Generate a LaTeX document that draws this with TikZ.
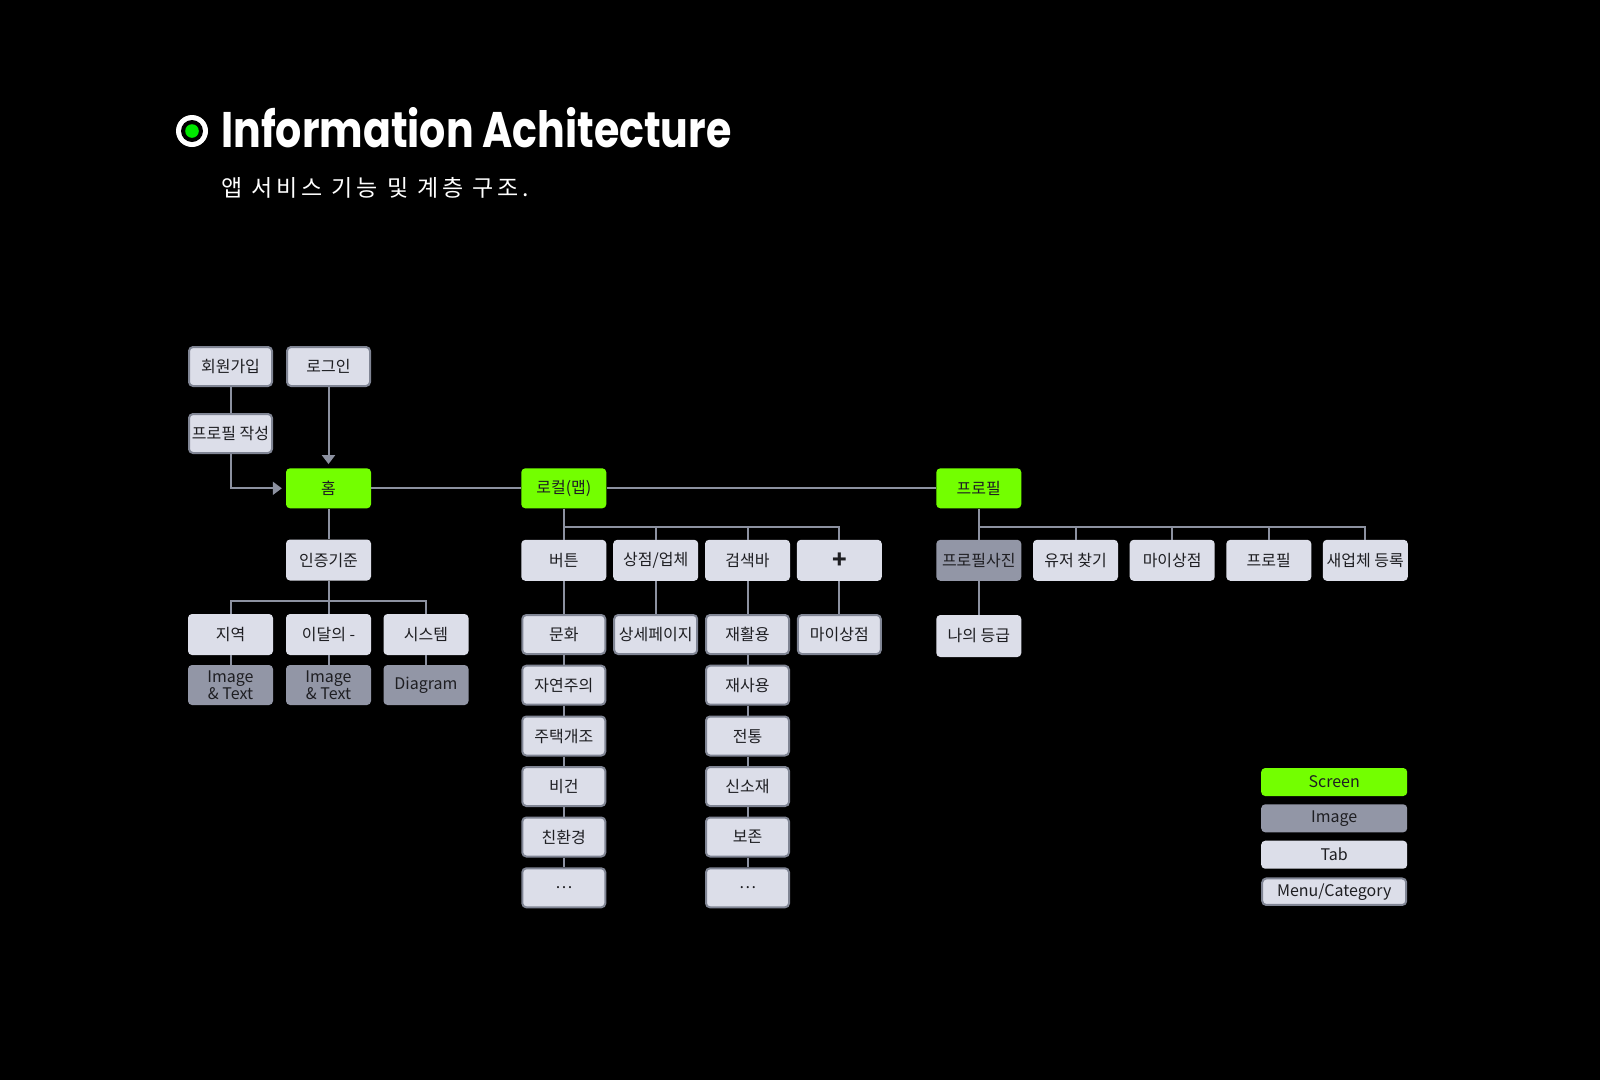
\documentclass[tikz,border=0pt]{standalone}
\usepackage{fontspec}
\usetikzlibrary{arrows.meta}
\newfontfamily\kr{Noto Sans CJK KR}
\newfontfamily\krsub{Noto Sans CJK KR}[LetterSpace=17]
\newfontfamily\titlefont{Poppins}
\definecolor{scrgreen}{RGB}{115,255,0}
\definecolor{tabfill}{RGB}{220,222,233}
\definecolor{imgfill}{RGB}{146,150,166}
\definecolor{bordercol}{RGB}{128,133,148}
\definecolor{linecol}{RGB}{140,145,160}
\definecolor{txt}{RGB}{30,30,34}
\definecolor{dotgreen}{RGB}{0,232,0}
\tikzset{
  box/.style={rounded corners=4pt, minimum width=85pt, minimum height=41pt, inner sep=0pt,
    font=\kr\fontsize{16}{17}\selectfont, text=txt, align=center},
  tabbox/.style={box, fill=tabfill},
  menubox/.style={box, fill=tabfill, draw=bordercol, line width=2pt, minimum width=83pt, minimum height=39pt},
  imgbox/.style={box, fill=imgfill},
  scrbox/.style={box, fill=scrgreen, minimum height=40pt},
  conn/.style={draw=linecol, line width=2pt},
  arr/.style={conn, -{Triangle[width=13pt,length=9pt]}, shorten >=4pt},
  legbox/.style={box, minimum width=146pt, minimum height=28pt}
}
\begin{document}
\begin{tikzpicture}[x=1pt,y=-1pt]
\fill[black] (0,0) rectangle (1600,1080);
\useasboundingbox (0,0) rectangle (1600,1080);

% title
\fill[white] (192,131) circle (16);
\fill[black] (192,131) circle (11);
\fill[dotgreen] (192,131) circle (6.8);
\node[anchor=base west, inner sep=0pt, text=white] (title) at (221,147)
  {\scalebox{0.822}[1]{\titlefont\bfseries\fontsize{50}{56}\selectfont Information Achitecture}};
\node[anchor=west, inner sep=0pt, text=white, font=\krsub\fontsize{23}{26}\selectfont] (sub) at (221,188)
  {앱 서비스 기능 및 계층 구조.};

% left tree
\node[menubox] (join) at (230.5,366.5) {회원가입};
\node[menubox] (login) at (328.5,366.5) {로그인};
\node[menubox] (pwrite) at (230.5,433.5) {프로필 작성};
\node[scrbox] (home) at (328.5,488.3) {홈};
\node[tabbox] (cert) at (328.5,560) {인증기준};
\node[tabbox] (region) at (230.5,634.5) {지역};
\node[tabbox] (month) at (328.5,634.5) {이달의 -};
\node[tabbox] (system) at (426,634.5) {시스템};
\node[imgbox, minimum height=40pt] (img1) at (230.5,685) {Image\\[-0.5pt]\& Text};
\node[imgbox, minimum height=40pt] (img2) at (328.5,685) {Image\\[-0.5pt]\& Text};
\node[imgbox, minimum height=40pt] (img3) at (426,685) {Diagram};

% local
\node[scrbox] (local) at (563.8,488.3) {로컬(맵)};
\node[tabbox] (btn) at (563.8,560.3) {버튼};
\node[tabbox] (shop) at (655.7,560.3) {상점/업체};
\node[tabbox] (search) at (747.5,560.3) {검색바};
\node[tabbox] (plus) at (839.3,560.3) {\fontsize{24}{24}\selectfont\textbf{+}};
\node[menubox] (culture) at (563.8,634.5) {문화};
\node[menubox] (detail) at (655.7,634.5) {상세페이지};
\node[menubox] (recycle) at (747.5,634.5) {재활용};
\node[menubox] (myshop) at (839.3,634.5) {마이상점};
\node[menubox] (nature) at (563.8,685.2) {자연주의};
\node[menubox] (house) at (563.8,736) {주택개조};
\node[menubox] (vegan) at (563.8,786.5) {비건};
\node[menubox] (eco) at (563.8,837) {친환경};
\node[menubox] (more1) at (563.8,887.8) {…};
\node[menubox] (reuse) at (747.5,685.2) {재사용};
\node[menubox] (trad) at (747.5,736) {전통};
\node[menubox] (newmat) at (747.5,786.5) {신소재};
\node[menubox] (keep) at (747.5,837) {보존};
\node[menubox] (more2) at (747.5,887.8) {…};

% profile
\node[scrbox] (prof) at (978.8,488.3) {프로필};
\node[imgbox] (photo) at (978.8,560.3) {프로필사진};
\node[tabbox] (user) at (1075.5,560.3) {유저 찾기};
\node[tabbox] (mys2) at (1172.2,560.3) {마이상점};
\node[tabbox] (prof2) at (1268.8,560.3) {프로필};
\node[tabbox] (newbiz) at (1365.3,560.3) {새업체 등록};
\node[tabbox, minimum height=42pt] (grade) at (978.8,636) {나의 등급};

% legend
\node[legbox, fill=scrgreen] (lg1) at (1334.2,782) {Screen};
\node[legbox, fill=imgfill] (lg2) at (1334.2,818.3) {Image};
\node[legbox, fill=tabfill] (lg3) at (1334.2,854.7) {Tab};
\node[legbox, fill=tabfill, draw=bordercol, line width=2pt, minimum width=144pt, minimum height=26.5pt] (lg4) at (1334.2,891.7) {Menu/Category};

% connectors
\draw[conn] (join) -- (pwrite);
\draw[arr] (login) -- (home);
\draw[arr] (pwrite.south) |- (home.west);
\draw[conn] (home) -- (local);
\draw[conn] (local) -- (prof);

\draw[conn] (home) -- (cert);
\draw[conn] (cert) -- (month);
\coordinate (cb) at (328.5,600.7);
\draw[conn] (cb) -| (region.north);
\draw[conn] (cb) -| (system.north);
\draw[conn] (region) -- (img1);
\draw[conn] (month) -- (img2);
\draw[conn] (system) -- (img3);

\coordinate (lb) at (563.8,527.3);
\draw[conn] (local) -- (btn);
\draw[conn] (lb) -| (shop.north);
\draw[conn] (lb) -| (search.north);
\draw[conn] (lb) -| (plus.north);
\draw[conn] (btn) -- (culture);
\draw[conn] (shop) -- (detail);
\draw[conn] (search) -- (recycle);
\draw[conn] (plus) -- (myshop);
\foreach \a/\b in {culture/nature, nature/house, house/vegan, vegan/eco, eco/more1,
                   recycle/reuse, reuse/trad, trad/newmat, newmat/keep, keep/more2}
  \draw[conn] (\a) -- (\b);

\coordinate (pb) at (978.8,526.7);
\draw[conn] (prof) -- (photo);
\draw[conn] (pb) -| (user.north);
\draw[conn] (pb) -| (mys2.north);
\draw[conn] (pb) -| (prof2.north);
\draw[conn] (pb) -| (newbiz.north);
\draw[conn] (photo) -- (grade);
\end{tikzpicture}
\end{document}
